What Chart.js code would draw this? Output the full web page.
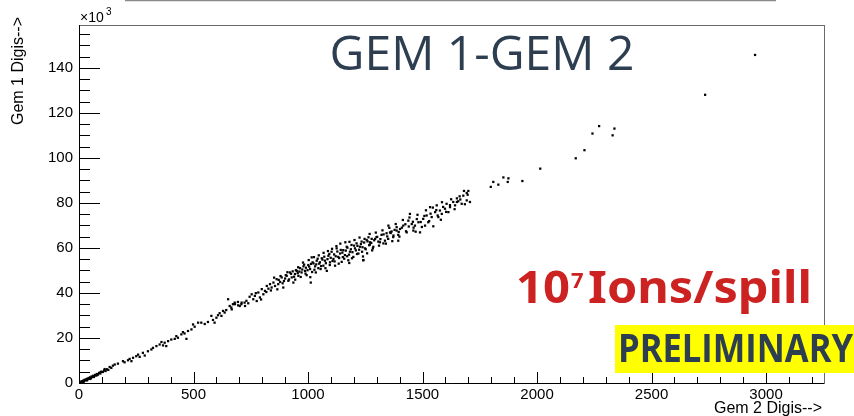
<!DOCTYPE html>
<html>
<head>
<meta charset="utf-8">
<script src="https://cdn.jsdelivr.net/npm/chart.js@4/dist/chart.umd.min.js"></script>
<style>
  html, body { margin: 0; padding: 0; background: #fff; }
  #wrap { width: 854px; height: 416px; }
</style>
</head>
<body>
<div id="wrap"><canvas id="scatterGem" width="854" height="416"></canvas></div>
<script>
// Gem 2 digis (x) vs Gem 1 digis (y, in thousands)
var originBand = [
  [3,0.2],[6,0.5],[9,0.3],[12,0.8],[15,0.6],[18,1.0],[20,0.4],[21,0.9],[24,1.4],[27,1.1],
  [30,1.6],[33,1.3],[35,1.2],[36,1.9],[39,1.7],[42,2.2],[45,1.9],[48,2.5],[50,1.8],[52,2.3],
  [55,2.9],[58,2.6],[62,3.2],[65,2.7],[66,3.0],[70,3.6],[74,3.3],[78,4.0],[80,3.5],[83,3.8],
  [88,4.5],[93,4.2],[95,4.9],[98,5.0],[104,4.9],[110,5.6],[112,6.2],[116,5.3],[122,6.1],[128,5.8]
];

var lowBand = [
  [134,7.1],[141,6.7],[148,7.7],[156,8.2],[170,8.6],[192,9.7],[199,9.2],[214,10.1],[221,10.7],[229,9.7],
  [236,11.2],[250,11.9],[258,12.6],[265,11.6],[279,13.4],[287,12.2],[301,14.1],[316,14.9],[323,15.6],[338,16.4],
  [352,17.1],[360,18.2],[367,16.7],[374,17.9],[381,16.4],[389,18.6],[403,19.3],[418,19.6],[425,20.8],[432,20.1],
  [447,21.6],[454,22.6],[461,22.0],[469,19.6],[476,23.1],[491,23.8],[498,26.0],[505,25.0],[520,26.8],[534,26.8],
  [549,26.2],[563,27.1],[578,29.8],[585,28.0],[592,26.8],[600,29.0],[607,30.1],[614,31.0],[622,29.8],[629,32.0],
  [636,31.3],[643,32.4],[651,37.2],[658,34.2],[665,33.5],[672,35.0],[680,35.7],[694,36.0],[702,34.2],[709,35.0],
  [723,35.7],[731,36.5]
];

var midBand = [
  [667,32.7],[681,35.0],[695,34.5],[710,35.7],[725,34.2],[739,35.4],[754,39.4],[761,37.2],[768,38.7],[776,36.4],
  [783,40.2],[790,38.0],[798,41.7],[805,39.4],[812,40.9],[820,43.1],[827,41.9],[834,43.9],[841,42.4],[849,44.6],
  [856,43.1],[863,46.1],[870,43.9],[872,45.8],[878,44.9],[885,46.9],[889,44.3],[892,42.4],[900,46.4],[903,47.9],
  [907,47.6],[914,45.4],[917,46.0],[921,49.1],[926,48.5],[929,46.9],[936,44.6],[939,47.2],[943,48.4],[947,50.1],
  [951,49.8],[955,48.8],[958,47.6],[962,49.5],[965,51.0],[972,49.1],[975,50.4],[980,51.8],[983,52.6],[987,49.8],
  [991,51.2],[994,47.9],[998,50.1],[1001,52.4],[1005,51.7],[1009,50.6],[1010,47.0],[1012,44.6],[1013,52.9],[1016,55.8],
  [1020,53.6],[1024,53.1],[1028,50.3],[1031,51.8],[1036,52.7],[1038,54.3],[1042,55.2],[1045,51.0],[1049,53.0],[1052,53.6],
  [1057,51.9],[1060,55.4],[1063,54.8],[1067,52.1],[1071,56.1],[1074,54.3],[1078,53.2],[1082,49.8],[1085,55.0],[1089,56.5],
  [1093,57.3],[1096,53.6],[1099,55.6],[1103,58.3],[1107,54.2],[1111,55.1],[1114,57.1],[1118,52.1],[1121,56.3],[1125,59.8],
  [1128,58.4],[1132,56.0],[1136,55.5],[1140,57.5],[1143,59.1],[1147,53.8],[1150,57.9],[1154,59.0],[1158,55.2],[1161,56.8],
  [1165,58.8],[1169,60.5],[1172,60.1],[1176,54.5],[1179,57.0],[1180,53.3],[1183,58.3],[1187,59.4],[1190,61.3],[1194,58.1],
  [1198,56.0],[1201,61.0],[1205,59.8],[1209,58.9],[1212,62.0],[1216,60.9],[1220,57.5],[1223,59.2],[1227,60.5],[1231,61.7],
  [1234,62.8],[1238,60.3],[1240,56.2],[1241,54.5],[1242,54.6],[1245,62.4],[1249,59.8],[1252,59.4],[1256,63.5],[1260,62.9]
];

// wider scatter around the band
var bandEdges = [
  [745,38.3],[772,39.9],[795,37.1],[818,40.4],[838,41.1],[852,46.8],[866,41.6],[880,47.5],[895,45.3],[910,49.2],
  [933,49.6],[944,45.9],[957,51.4],[968,47.1],[978,53.5],[989,48.6],[1003,54.6],[1018,49.3],[1026,55.9],[1034,49.1],
  [1047,56.7],[1055,50.6],[1068,57.8],[1076,51.0],[1087,58.6],[1095,52.4],[1105,59.6],[1116,54.0],[1124,60.8],[1134,53.0],
  [1141,61.9],[1152,55.9],[1163,62.5],[1171,56.3],[1181,62.7],[1192,55.4],[1203,63.5],[1214,57.3],[1225,64.6],[1236,58.3],
  [1247,64.0],[1258,57.6],[1269,66.2],[1283,59.8],[1296,66.8],[1310,61.0],[1325,67.8],[1340,61.9],[1355,68.9],[1368,63.0],
  [1383,70.6],[1399,65.0],[1414,72.4],[1428,67.4],[1443,73.5],[1461,69.0],[1478,74.7],[1497,69.3],[1515,76.7],[1529,71.9],
  [1545,77.9],[1566,74.4],[1585,80.3],[1603,76.0],[1625,81.6],[1640,77.2],[1662,82.9],[1685,79.4],[1697,83.6]
];

var highBand = [
  [1264,64.7],[1267,61.2],[1270,61.5],[1271,62.5],[1276,62.2],[1278,64.0],[1280,58.9],[1285,60.5],[1289,63.4],[1293,64.0],
  [1299,64.8],[1302,64.9],[1307,62.8],[1314,62.5],[1316,63.9],[1321,65.8],[1329,62.0],[1330,66.0],[1336,63.2],[1343,66.5],
  [1346,65.1],[1350,64.0],[1351,69.9],[1358,66.9],[1361,66.6],[1365,67.3],[1372,64.8],[1373,65.5],[1378,68.0],[1387,67.7],
  [1387,69.2],[1394,65.8],[1394,63.2],[1396,67.1],[1402,68.4],[1410,69.0],[1416,69.9],[1425,70.5],[1431,66.9],[1438,72.1],
  [1440,69.5],[1445,75.1],[1453,70.6],[1458,71.6],[1460,67.7],[1467,69.9],[1470,67.2],[1475,72.8],[1482,71.4],[1489,66.9],
  [1492,71.5],[1503,72.9],[1508,74.2],[1511,69.9],[1518,74.4],[1525,71.4],[1533,78.1],[1535,75.2],[1540,73.7],[1547,69.6],
  [1555,75.9],[1560,76.8],[1562,78.9],[1569,73.7],[1576,76.6],[1580,72.5],[1584,75.1],[1590,78.2],[1598,77.4],[1605,79.6],
  [1613,75.9],[1620,78.1],[1620,79.0],[1634,80.4],[1642,78.9],[1650,80.4],[1650,82.0],[1656,80.7],[1665,81.5],[1671,79.6],
  [1678,83.2],[1681,85.3],[1693,84.4],[1693,81.1],[1700,85.3],[1707,80.4]
];

var tailPoints = [
  [1798,87.1],[1809,89.3],[1831,88.1],[1853,91.3],[1872,89.3],[1875,90.9],[1936,89.7],[2014,95.2],[2169,99.8],[2207,103.4],
  [2242,110.8],[2271,114.1],[2330,110.0],[2338,113.0],[2734,128.0],[2952,145.7]
];

var xTicks = [0, 500, 1000, 1500, 2000, 2500, 3000];
var yTicks = [0, 20, 40, 60, 80, 100, 120, 140];
var xRange = [0, 3253];
var yRange = [0, 159];

var allPoints = originBand.concat(lowBand, midBand, bandEdges, highBand, tailPoints).map(function (p) {
  return { x: p[0], y: p[1] };
});

// draw text squeezed/stretched to a given width
function fitText(ctx, text, x, y, width) {
  var natural = ctx.measureText(text).width;
  ctx.save();
  ctx.translate(x, y);
  ctx.scale(width / natural, 1);
  ctx.fillText(text, 0, 0);
  ctx.restore();
}

// ROOT style frame: ticks inside the box, labels outside
var rootFrame = {
  id: 'rootFrame',
  afterDraw: function (chart) {
    var ctx = chart.ctx;
    var a = chart.chartArea;
    var xs = chart.scales.x;
    var ys = chart.scales.y;
    ctx.save();

    // stray line along the top edge
    ctx.strokeStyle = '#8a8a8a';
    ctx.lineWidth = 1.5;
    ctx.beginPath();
    ctx.moveTo(125, 0.5);
    ctx.lineTo(776, 0.5);
    ctx.stroke();

    // box
    ctx.strokeStyle = '#6a6a6a';
    ctx.lineWidth = 1;
    ctx.strokeRect(a.left + 0.5, a.top + 0.5, a.right - a.left, a.bottom - a.top);
    ctx.strokeStyle = '#000';
    ctx.beginPath();
    ctx.moveTo(a.left + 0.5, a.top);
    ctx.lineTo(a.left + 0.5, a.bottom + 0.5);
    ctx.lineTo(a.right, a.bottom + 0.5);
    ctx.stroke();

    // x ticks
    ctx.strokeStyle = '#000';
    ctx.beginPath();
    for (var v = 0; v <= xRange[1]; v += 100) {
      var px = Math.round(xs.getPixelForValue(v)) + 0.5;
      var len = (v % 500 === 0) ? 11 : 6;
      ctx.moveTo(px, a.bottom);
      ctx.lineTo(px, a.bottom - len);
    }
    // y ticks
    for (var w = 0; w <= yRange[1]; w += 5) {
      var py = Math.round(ys.getPixelForValue(w)) + 0.5;
      var ylen = (w % 20 === 0) ? 21 : 11;
      ctx.moveTo(a.left, py);
      ctx.lineTo(a.left + ylen, py);
    }
    ctx.stroke();

    // tick labels
    ctx.fillStyle = '#000';
    ctx.font = '15px "Liberation Sans", Arial, sans-serif';
    ctx.textAlign = 'center';
    ctx.textBaseline = 'top';
    xTicks.forEach(function (t) {
      ctx.fillText(String(t), xs.getPixelForValue(t), a.bottom + 4);
    });
    ctx.textAlign = 'right';
    ctx.textBaseline = 'middle';
    yTicks.forEach(function (t) {
      ctx.fillText(String(t), a.left - 6, ys.getPixelForValue(t));
    });

    // exponent
    ctx.textAlign = 'left';
    ctx.textBaseline = 'alphabetic';
    ctx.font = '14px "Liberation Sans", Arial, sans-serif';
    ctx.fillText('\u00d710', a.left + 1, 22);
    ctx.font = '10px "Liberation Sans", Arial, sans-serif';
    ctx.fillText('3', a.left + 27, 15);

    // axis titles
    ctx.font = '16px "Liberation Sans", Arial, sans-serif';
    ctx.textAlign = 'right';
    ctx.fillText('Gem 2 Digis-->', a.right - 2, 413);
    ctx.save();
    ctx.translate(23, 17);
    ctx.rotate(-Math.PI / 2);
    ctx.textAlign = 'right';
    ctx.fillText('Gem 1 Digis-->', 0, 0);
    ctx.restore();

    // title
    ctx.fillStyle = '#2c3e50';
    ctx.font = '48px "Open Sans", "Noto Sans", sans-serif';
    ctx.textAlign = 'center';
    ctx.fillText('GEM 1-GEM 2', 482, 70);

    // beam intensity
    ctx.fillStyle = '#cc2222';
    ctx.textAlign = 'left';
    ctx.font = 'bold 44px "Noto Sans", "Open Sans", sans-serif';
    fitText(ctx, '10', 516, 303, 54);
    ctx.font = 'bold 22px "Noto Sans", "Open Sans", sans-serif';
    ctx.fillText('7', 571, 288);
    ctx.font = 'bold 45px "Noto Sans", "Open Sans", sans-serif';
    fitText(ctx, 'Ions/spill', 588, 303, 224);

    // preliminary tag
    ctx.fillStyle = '#ffff00';
    ctx.fillRect(615, 325, 239, 48);
    ctx.fillStyle = '#2c3e50';
    ctx.font = 'bold 39px "Open Sans", "Noto Sans", sans-serif';
    fitText(ctx, 'PRELIMINARY', 618, 362, 235);

    ctx.restore();
  }
};

var configScatter = {
  type: 'scatter',
  data: {
    datasets: [
      {
        label: 'Gem 1 vs Gem 2',
        data: allPoints,
        backgroundColor: '#000',
        borderWidth: 0,
        pointStyle: 'rect',
        pointRadius: 1.6,
      },
    ],
  },
  options: {
    responsive: false,
    animation: false,
    layout: { padding: { left: 79, right: 30, top: 25, bottom: 33 } },
    plugins: { legend: { display: false }, tooltip: { enabled: false } },
    scales: {
      x: { type: 'linear', min: xRange[0], max: xRange[1], display: false },
      y: { type: 'linear', min: yRange[0], max: yRange[1], display: false },
    },
  },
  plugins: [rootFrame],
};

var chartScatter = new Chart(document.getElementById('scatterGem'), configScatter);
</script>
</body>
</html>
